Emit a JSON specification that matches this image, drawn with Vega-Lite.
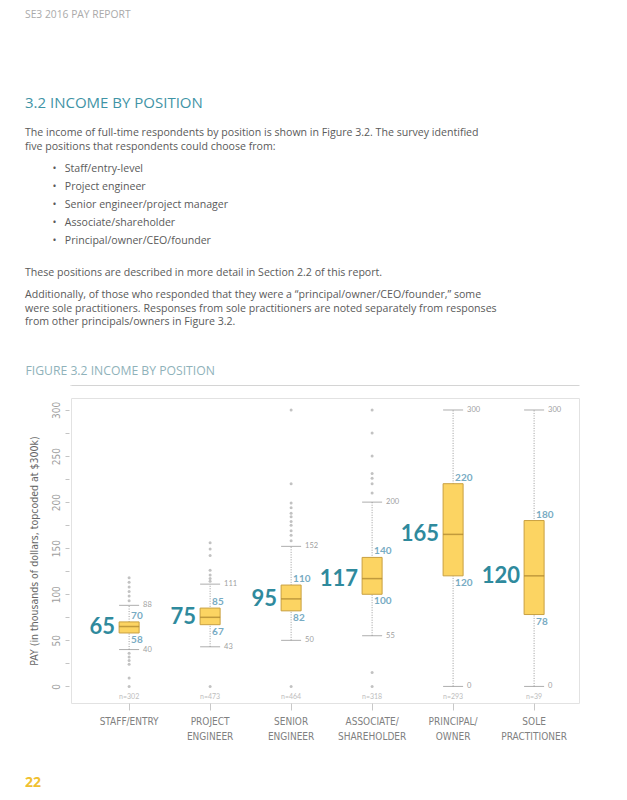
{
  "$schema": "https://vega.github.io/schema/vega-lite/v6.json",
  "background": "white",
  "autosize": {"type": "pad"},
  "padding": {"left": 25, "top": 10, "right": 5, "bottom": 0},
  "config": {
    "view": {"stroke": null},
    "font": "Open Sans",
    "concat": {"spacing": 10}
  },
  "spacing": 10,
  "title": {
    "text": "SE3 2016 PAY REPORT",
    "anchor": "start",
    "font": "Open Sans",
    "fontSize": 10.3,
    "fontWeight": "normal",
    "color": "#aaaaaa",
    "offset": 76
  },
  "vconcat": [
    {
      "width": 508,
      "height": 1,
      "title": {
        "text": "3.2 INCOME BY POSITION",
        "subtitle": [
          "The income of full-time respondents by position is shown in Figure 3.2. The survey identified",
          "\u200b", "\u200b",
          "five positions that respondents could choose from:",
          "\u200b", "\u200b", "\u200b", "\u200b",
          "\u200b\u00a0\u00a0\u00a0\u00a0\u00a0\u00a0\u00a0\u00a0\u00a0\u00a0•\u00a0\u00a0\u00a0Staff/entry-level",
          "\u200b", "\u200b", "\u200b",
          "\u200b\u00a0\u00a0\u00a0\u00a0\u00a0\u00a0\u00a0\u00a0\u00a0\u00a0•\u00a0\u00a0\u00a0Project engineer",
          "\u200b", "\u200b", "\u200b",
          "\u200b\u00a0\u00a0\u00a0\u00a0\u00a0\u00a0\u00a0\u00a0\u00a0\u00a0•\u00a0\u00a0\u00a0Senior engineer/project manager",
          "\u200b", "\u200b", "\u200b",
          "\u200b\u00a0\u00a0\u00a0\u00a0\u00a0\u00a0\u00a0\u00a0\u00a0\u00a0•\u00a0\u00a0\u00a0Associate/shareholder",
          "\u200b", "\u200b", "\u200b",
          "\u200b\u00a0\u00a0\u00a0\u00a0\u00a0\u00a0\u00a0\u00a0\u00a0\u00a0•\u00a0\u00a0\u00a0Principal/owner/CEO/founder",
          "\u200b", "\u200b", "\u200b", "\u200b", "\u200b", "\u200b",
          "These positions are described in more detail in Section 2.2 of this report.",
          "\u200b", "\u200b", "\u200b", "\u200b",
          "Additionally, of those who responded that they were a “principal/owner/CEO/founder,” some",
          "\u200b", "\u200b",
          "were sole practitioners. Responses from sole practitioners are noted separately from responses",
          "\u200b", "\u200b",
          "from other principals/owners in Figure 3.2."
        ],
        "anchor": "start",
        "frame": "group",
        "dx": -46,
        "font": "Open Sans",
        "fontSize": 15,
        "fontWeight": "normal",
        "color": "#3f94a6",
        "subtitleFont": "Open Sans",
        "subtitleFontSize": 10.6,
        "subtitleColor": "#5a5a5a",
        "subtitleLineHeight": 4.5,
        "subtitlePadding": 17,
        "offset": 36
      },
      "data": {"values": [{"v": 0}]},
      "mark": {"type": "rule", "color": "#d4d4d4"},
      "encoding": {
        "x": {
          "field": "v",
          "type": "quantitative",
          "scale": {"domain": [0, 1]},
          "axis": {
            "orient": "top",
            "title": "FIGURE 3.2  INCOME BY POSITION",
            "titleX": -46,
            "titleAlign": "left",
            "titleFont": "Open Sans",
            "titleFontSize": 12.2,
            "titleFontWeight": "normal",
            "titleColor": "#8fb2ba",
            "titlePadding": 8,
            "labels": false,
            "ticks": false,
            "grid": false,
            "domain": true,
            "domainColor": "#d4d4d4",
            "domainWidth": 1
          }
        }
      }
    },
    {
      "width": 508,
      "height": 305,
      "view": {"stroke": "#e2e2e2"},
      "layer": [
        {
          "data": {"name": "stats"},
          "mark": {"type": "rule", "color": "#9a9a9a", "strokeDash": [1, 1.5], "strokeWidth": 1},
          "encoding": {
            "x": {"field": "pos", "type": "nominal", "sort": null},
            "y": {"field": "lo", "type": "quantitative"},
            "y2": {"field": "hi"}
          }
        },
        {
          "data": {"name": "outliers"},
          "mark": {"type": "circle", "size": 9, "color": "#c2c2c2", "opacity": 1},
          "encoding": {
            "x": {"field": "pos", "type": "nominal", "sort": null},
            "y": {"field": "pay", "type": "quantitative"}
          }
        },
        {
          "data": {"name": "stats"},
          "mark": {"type": "tick", "color": "#8a8a8a", "size": 20, "thickness": 1},
          "encoding": {
            "x": {"field": "pos", "type": "nominal", "sort": null},
            "y": {"field": "lo", "type": "quantitative"}
          }
        },
        {
          "data": {"name": "stats"},
          "mark": {"type": "tick", "color": "#8a8a8a", "size": 20, "thickness": 1},
          "encoding": {
            "x": {"field": "pos", "type": "nominal", "sort": null},
            "y": {"field": "hi", "type": "quantitative"}
          }
        },
        {
          "data": {"name": "stats"},
          "mark": {"type": "bar", "size": 20, "fill": "#fcd462", "stroke": "#c9a040", "strokeWidth": 1},
          "encoding": {
            "x": {"field": "pos", "type": "nominal", "sort": null},
            "y": {"field": "q1", "type": "quantitative"},
            "y2": {"field": "q3"}
          }
        },
        {
          "data": {"name": "stats"},
          "mark": {"type": "tick", "color": "#a8822c", "size": 20, "thickness": 1.5},
          "encoding": {
            "x": {"field": "pos", "type": "nominal", "sort": null},
            "y": {"field": "med", "type": "quantitative"}
          }
        },
        {
          "data": {"name": "stats"},
          "mark": {"type": "text", "align": "left", "baseline": "middle", "dx": 14, "fontSize": 7.5, "color": "#a0a0a0", "font": "Lato"},
          "encoding": {
            "x": {"field": "pos", "type": "nominal", "sort": null},
            "y": {"field": "hi", "type": "quantitative"},
            "text": {"field": "hi"}
          }
        },
        {
          "data": {"name": "stats"},
          "mark": {"type": "text", "align": "left", "baseline": "middle", "dx": 14, "fontSize": 7.5, "color": "#a0a0a0", "font": "Lato"},
          "encoding": {
            "x": {"field": "pos", "type": "nominal", "sort": null},
            "y": {"field": "lo", "type": "quantitative"},
            "text": {"field": "lo"}
          }
        },
        {
          "data": {"name": "stats"},
          "mark": {"type": "text", "align": "left", "baseline": "bottom", "dx": 2, "dy": -1, "fontSize": 10, "fontWeight": "bold", "color": "#77abc3", "font": "Lato"},
          "encoding": {
            "x": {"field": "pos", "type": "nominal", "sort": null},
            "y": {"field": "q3", "type": "quantitative"},
            "text": {"field": "q3"}
          }
        },
        {
          "data": {"name": "stats"},
          "mark": {"type": "text", "align": "left", "baseline": "top", "dx": 2, "dy": 2, "fontSize": 10, "fontWeight": "bold", "color": "#77abc3", "font": "Lato"},
          "encoding": {
            "x": {"field": "pos", "type": "nominal", "sort": null},
            "y": {"field": "q1", "type": "quantitative"},
            "text": {"field": "q1"}
          }
        },
        {
          "data": {"name": "stats"},
          "mark": {"type": "text", "align": "right", "baseline": "middle", "dx": -14, "fontSize": 22, "fontWeight": "bold", "color": "#2f8a9d", "font": "Lato"},
          "encoding": {
            "x": {"field": "pos", "type": "nominal", "sort": null},
            "y": {"field": "med", "type": "quantitative"},
            "text": {"field": "med"}
          }
        },
        {
          "data": {"name": "stats"},
          "mark": {"type": "text", "align": "center", "baseline": "bottom", "dy": -3, "fontSize": 7, "color": "#bdbdbd", "font": "Lato"},
          "encoding": {
            "x": {"field": "pos", "type": "nominal", "sort": null},
            "y": {"value": "height"},
            "text": {"field": "n"}
          }
        }
      ],
      "encoding": {
        "x": {
          "field": "pos",
          "type": "nominal",
          "sort": null,
          "scale": {"paddingInner": 0, "paddingOuter": 0.136, "align": 0.8},
          "axis": {
            "title": null,
            "labelAngle": 0,
            "labelExpr": "split(datum.label, ' ')",
            "labelFont": "Liberation Sans Narrow, DejaVu Sans Condensed, sans-serif",
            "labelFontSize": 10,
            "labelColor": "#808080",
            "labelLineHeight": 15,
            "labelPadding": 6,
            "tickSize": 7,
            "tickColor": "#c8c8c8",
            "domain": false,
            "grid": false
          }
        },
        "y": {
          "type": "quantitative",
          "scale": {"domain": [-18, 313], "nice": false, "zero": false},
          "axis": {
            "title": "PAY (in thousands of dollars, topcoded at $300k)",
            "titleFont": "Liberation Sans Narrow, DejaVu Sans Condensed, sans-serif",
            "titleFontSize": 10.5,
            "titleFontWeight": "normal",
            "titleColor": "#666666",
            "titlePadding": 12,
            "values": [0, 25, 50, 75, 100, 125, 150, 175, 200, 225, 250, 275, 300],
            "labelExpr": "datum.value % 50 === 0 ? datum.label : ''",
            "labelAngle": -90,
            "labelFont": "Liberation Sans Narrow, DejaVu Sans Condensed, sans-serif",
            "labelFontSize": 10,
            "labelColor": "#a0a0a0",
            "labelPadding": 4,
            "tickSize": 4,
            "tickColor": "#c4c4c4",
            "offset": 2,
            "domain": false,
            "grid": false
          }
        }
      }
    },
    {
      "width": 20,
      "height": 20,
      "data": {"values": []},
      "mark": "point",
      "title": {
        "text": "22",
        "orient": "bottom",
        "anchor": "start",
        "frame": "group",
        "dx": -46,
        "font": "Open Sans",
        "fontSize": 14,
        "fontWeight": "bold",
        "color": "#f0c030",
        "offset": 4
      }
    }
  ],
  "datasets": {
    "stats": [
      {"pos": "STAFF/ENTRY", "lo": 40, "q1": 58, "med": 65, "q3": 70, "hi": 88, "n": "n=302"},
      {"pos": "PROJECT ENGINEER", "lo": 43, "q1": 67, "med": 75, "q3": 85, "hi": 111, "n": "n=473"},
      {"pos": "SENIOR ENGINEER", "lo": 50, "q1": 82, "med": 95, "q3": 110, "hi": 152, "n": "n=464"},
      {"pos": "ASSOCIATE/ SHAREHOLDER", "lo": 55, "q1": 100, "med": 117, "q3": 140, "hi": 200, "n": "n=318"},
      {"pos": "PRINCIPAL/ OWNER", "lo": 0, "q1": 120, "med": 165, "q3": 220, "hi": 300, "n": "n=293"},
      {"pos": "SOLE PRACTITIONER", "lo": 0, "q1": 78, "med": 120, "q3": 180, "hi": 300, "n": "n=39"}
    ],
    "outliers": [
      {"pos": "STAFF/ENTRY", "pay": 118}, {"pos": "STAFF/ENTRY", "pay": 113}, {"pos": "STAFF/ENTRY", "pay": 108},
      {"pos": "STAFF/ENTRY", "pay": 103}, {"pos": "STAFF/ENTRY", "pay": 98}, {"pos": "STAFF/ENTRY", "pay": 93},
      {"pos": "STAFF/ENTRY", "pay": 36}, {"pos": "STAFF/ENTRY", "pay": 32}, {"pos": "STAFF/ENTRY", "pay": 28},
      {"pos": "STAFF/ENTRY", "pay": 24}, {"pos": "STAFF/ENTRY", "pay": 9}, {"pos": "STAFF/ENTRY", "pay": 0},
      {"pos": "PROJECT ENGINEER", "pay": 156}, {"pos": "PROJECT ENGINEER", "pay": 149}, {"pos": "PROJECT ENGINEER", "pay": 142},
      {"pos": "PROJECT ENGINEER", "pay": 126}, {"pos": "PROJECT ENGINEER", "pay": 121}, {"pos": "PROJECT ENGINEER", "pay": 117},
      {"pos": "PROJECT ENGINEER", "pay": 114}, {"pos": "PROJECT ENGINEER", "pay": 0},
      {"pos": "SENIOR ENGINEER", "pay": 300}, {"pos": "SENIOR ENGINEER", "pay": 220}, {"pos": "SENIOR ENGINEER", "pay": 199},
      {"pos": "SENIOR ENGINEER", "pay": 194}, {"pos": "SENIOR ENGINEER", "pay": 188}, {"pos": "SENIOR ENGINEER", "pay": 184},
      {"pos": "SENIOR ENGINEER", "pay": 179}, {"pos": "SENIOR ENGINEER", "pay": 175}, {"pos": "SENIOR ENGINEER", "pay": 169},
      {"pos": "SENIOR ENGINEER", "pay": 164}, {"pos": "SENIOR ENGINEER", "pay": 158}, {"pos": "SENIOR ENGINEER", "pay": 0},
      {"pos": "ASSOCIATE/ SHAREHOLDER", "pay": 300}, {"pos": "ASSOCIATE/ SHAREHOLDER", "pay": 275}, {"pos": "ASSOCIATE/ SHAREHOLDER", "pay": 250},
      {"pos": "ASSOCIATE/ SHAREHOLDER", "pay": 231}, {"pos": "ASSOCIATE/ SHAREHOLDER", "pay": 226}, {"pos": "ASSOCIATE/ SHAREHOLDER", "pay": 220},
      {"pos": "ASSOCIATE/ SHAREHOLDER", "pay": 210}, {"pos": "ASSOCIATE/ SHAREHOLDER", "pay": 15}, {"pos": "ASSOCIATE/ SHAREHOLDER", "pay": 0}
    ]
  }
}
